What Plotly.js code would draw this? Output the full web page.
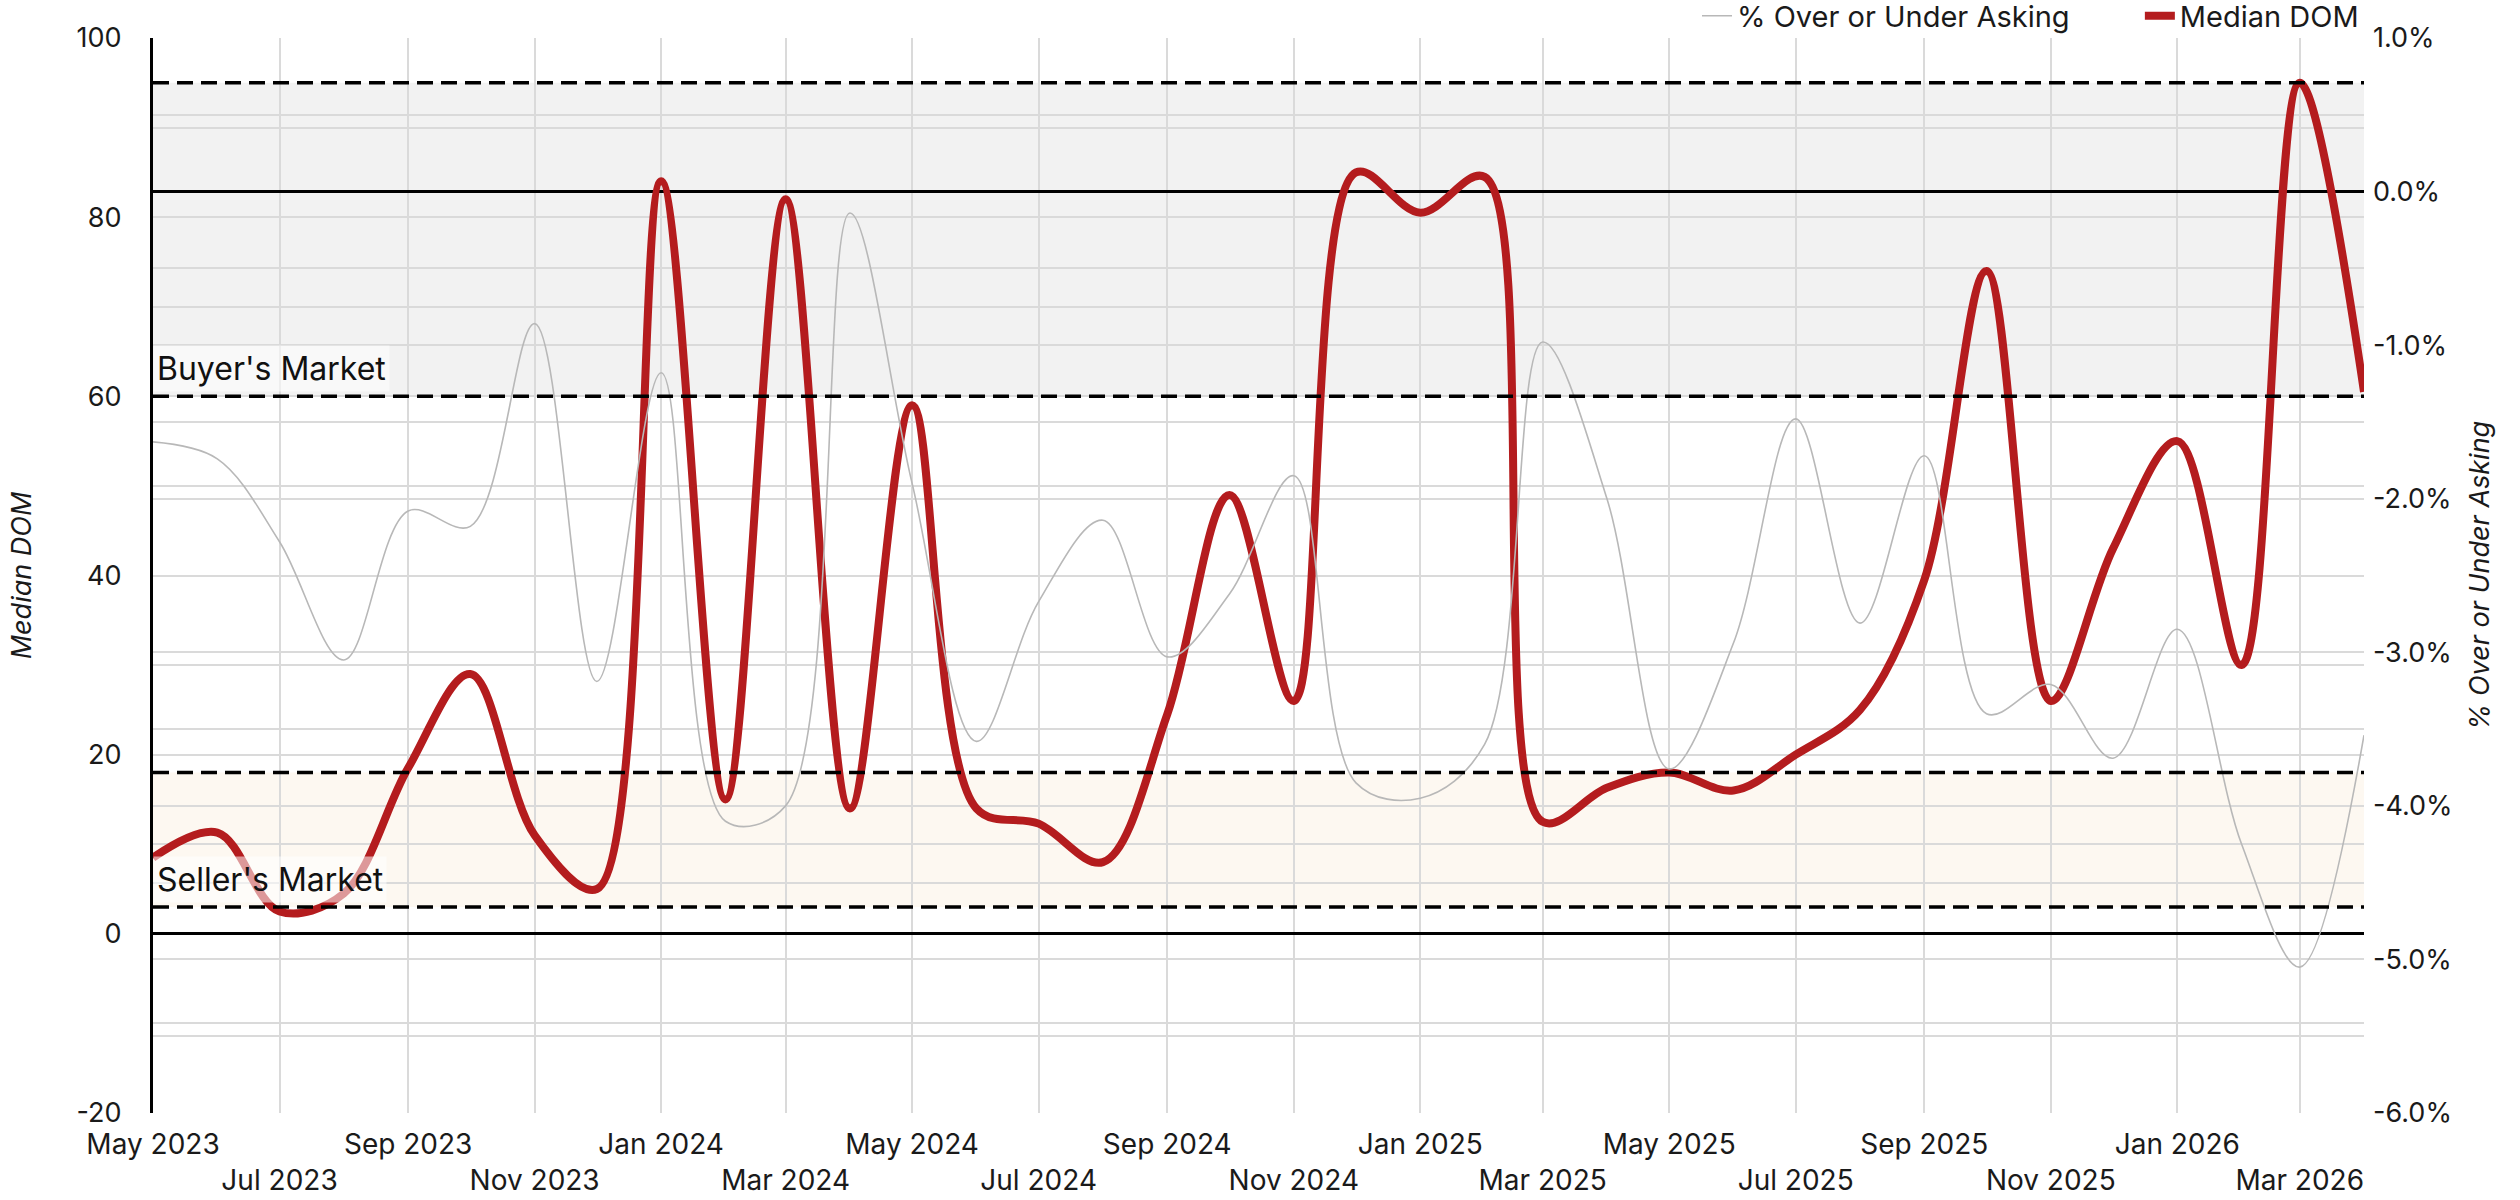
<!DOCTYPE html>
<html>
<head>
<meta charset="utf-8">
<script src="https://cdn.plot.ly/plotly-3.0.1.min.js"></script>
<style>html,body{margin:0;padding:0;background:#fff;}</style>
</head>
<body>
<div id="chart" style="width:2520px;height:1200px;"></div>
<script>
// ---- data ----
const months = ['2023-05-01','2023-06-01','2023-07-01','2023-08-01','2023-09-01','2023-10-01','2023-11-01','2023-12-01',
  '2024-01-01','2024-02-01','2024-03-01','2024-04-01','2024-05-01','2024-06-01','2024-07-01','2024-08-01','2024-09-01','2024-10-01','2024-11-01','2024-12-01',
  '2025-01-01','2025-02-01','2025-03-01','2025-04-01','2025-05-01','2025-06-01','2025-07-01','2025-08-01','2025-09-01','2025-10-01','2025-11-01','2025-12-01',
  '2026-01-01','2026-02-01','2026-03-01','2026-04-01'];

const medianDOM = [8.5, 11.3, 2.5, 4.5, 18.5, 29, 11, 5, 84, 15, 82, 14, 59, 14, 12.3, 8, 24.5, 49, 26, 85,
  80.5, 84.5, 12.5, 16.3, 18, 16, 20, 25, 39.5, 74, 26, 43, 55, 30, 95, 60.5];

const pctOverUnder = [-1.63, -1.74, -2.28, -3.05, -2.08, -2.18, -0.86, -3.19, -1.18, -4.1, -4.0, -0.14, -1.9, -3.58,
  -2.67, -2.14, -3.03, -2.62, -1.85, -3.85, -3.95, -3.6, -0.98, -2.0, -3.76, -2.94, -1.48, -2.81, -1.72, -3.4,
  -3.21, -3.69, -2.85, -4.25, -5.05, -3.54];

const xTickDates = ['2023-05-01','2023-07-01','2023-09-01','2023-11-01','2024-01-01','2024-03-01','2024-05-01','2024-07-01',
  '2024-09-01','2024-11-01','2025-01-01','2025-03-01','2025-05-01','2025-07-01','2025-09-01','2025-11-01','2026-01-01','2026-03-01'];
const xTickLabels = ['May 2023','Jul 2023','Sep 2023','Nov 2023','Jan 2024','Mar 2024','May 2024','Jul 2024',
  'Sep 2024','Nov 2024','Jan 2025','Mar 2025','May 2025','Jul 2025','Sep 2025','Nov 2025','Jan 2026','Mar 2026'];

const domTickVals = [-20,-10,0,10,20,30,40,50,60,70,80,90,100];
const domTickText = ['-20','','0','','20','','40','','60','','80','','100'];

const pctTickVals = [-6,-5.5,-5,-4.5,-4,-3.5,-3,-2.5,-2,-1.5,-1,-0.5,0,0.5,1];
const pctTickText = ['-6.0%','','-5.0%','','-4.0%','','-3.0%','','-2.0%','','-1.0%','','0.0%','','1.0%'];

const buyerBand = [60, 95];
const sellerBand = [3, 18];
const marketLines = [95, 60, 18, 3];
const marketLabels = ["Buyer's Market", "Seller's Market"];
const marketLabelAt = [60, 3];

// ---- chart ----
const FONT = 'Inter, "Open Sans", sans-serif';
const xStart = months[0], xEnd = months[months.length - 1];
const NB = '\u00a0';

const traces = [
  {
    x: months, y: pctOverUnder, yaxis: 'y2', type: 'scatter', mode: 'lines',
    name: '% Over or Under Asking' + NB.repeat(8),
    line: {color: '#b8b8b8', width: 1.6, shape: 'spline', smoothing: 1}
  },
  {
    x: months, y: medianDOM, yaxis: 'y', type: 'scatter', mode: 'lines',
    name: 'Median DOM',
    line: {color: '#b41c1e', width: 8, shape: 'spline', smoothing: 1}
  }
];

const shapes = [
  {type: 'rect', xref: 'x', yref: 'y', x0: xStart, x1: xEnd, y0: buyerBand[0], y1: buyerBand[1],
   fillcolor: '#f2f2f2', line: {width: 0}, layer: 'below'},
  {type: 'rect', xref: 'x', yref: 'y', x0: xStart, x1: xEnd, y0: sellerBand[0], y1: sellerBand[1],
   fillcolor: '#fdf8f1', line: {width: 0}, layer: 'below'}
];
marketLines.forEach(v => shapes.push({
  type: 'line', xref: 'x', yref: 'y', x0: xStart, x1: xEnd, y0: v, y1: v,
  line: {color: '#000', width: 3.5, dash: '16px,8px'}, layer: 'above'
}));

const annotations = marketLabels.map((t, i) => ({
  xref: 'paper', x: 0, xanchor: 'left', yref: 'y', y: marketLabelAt[i], yanchor: 'bottom',
  text: t, showarrow: false, font: {family: FONT, size: 32, color: '#111'},
  bgcolor: 'rgba(255,255,255,0.55)', borderpad: 3, yshift: 4
}));

const layout = {
  width: 2520, height: 1200,
  margin: {l: 153, r: 156, t: 38, b: 87, autoexpand: false},
  paper_bgcolor: '#ffffff', plot_bgcolor: 'rgba(0,0,0,0)',
  font: {family: FONT, size: 27, color: '#1a1a1a'},
  showlegend: true,
  legend: {orientation: 'h', x: 1, xanchor: 'right', y: 1.0205, yanchor: 'middle',
           font: {family: FONT, size: 29, color: '#1a1a1a'}, bgcolor: 'rgba(0,0,0,0)', traceorder: 'normal'},
  xaxis: {
    type: 'date', range: [xStart, xEnd],
    tickmode: 'array', tickvals: xTickDates,
    ticktext: xTickLabels.map((t, i) => i % 2 ? '<br>' + t : t),
    showgrid: true, gridcolor: '#dadada', gridwidth: 2,
    zeroline: false, showline: false, ticks: '', ticklabelstandoff: 12,
    tickfont: {family: FONT, size: 28, color: '#1a1a1a'}, tickangle: 0
  },
  yaxis: {
    range: [-20, 100], tickmode: 'array', tickvals: domTickVals, ticktext: domTickText,
    showgrid: true, gridcolor: '#dadada', gridwidth: 2,
    zeroline: true, zerolinecolor: '#000', zerolinewidth: 2.5,
    showline: true, linecolor: '#000', linewidth: 3,
    ticks: '', ticklabelstandoff: 23,
    tickfont: {family: FONT, size: 27, color: '#1a1a1a'},
    title: {text: '<i>Median DOM</i>', font: {family: FONT, size: 27, color: '#1a1a1a'}, standoff: 38}
  },
  yaxis2: {
    range: [-6, 1], overlaying: 'y', side: 'right',
    tickmode: 'array', tickvals: pctTickVals, ticktext: pctTickText,
    showgrid: true, gridcolor: '#dadada', gridwidth: 2,
    zeroline: true, zerolinecolor: '#000', zerolinewidth: 2.5,
    showline: false, ticks: '', ticklabelstandoff: 8,
    tickfont: {family: FONT, size: 27, color: '#1a1a1a'},
    title: {text: '<i>% Over or Under Asking</i>', font: {family: FONT, size: 27, color: '#1a1a1a'}, standoff: 18}
  },
  shapes: shapes,
  annotations: annotations
};

Plotly.newPlot('chart', traces, layout, {displayModeBar: false, responsive: false});
</script>
</body>
</html>
